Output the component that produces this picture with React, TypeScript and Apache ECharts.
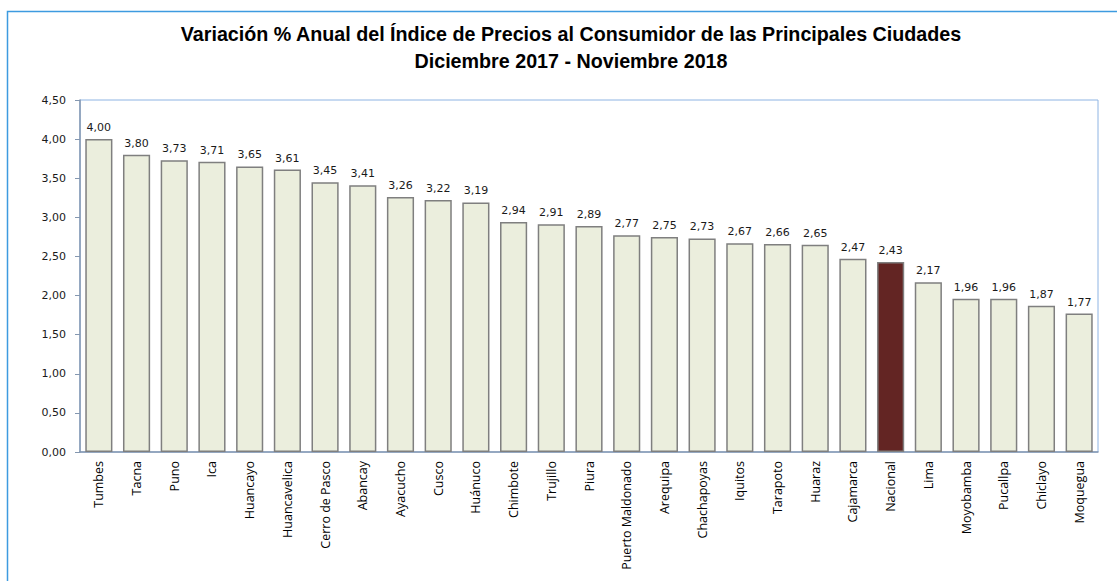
import React, { useEffect, useRef } from "react";
import * as echarts from "echarts";

const titleLine1 = "Variación % Anual del Índice de Precios al Consumidor de las Principales Ciudades";
const titleLine2 = "Diciembre 2017 - Noviembre 2018";

const cities = [
  "Tumbes", "Tacna", "Puno", "Ica", "Huancayo", "Huancavelica", "Cerro de Pasco",
  "Abancay", "Ayacucho", "Cusco", "Huánuco", "Chimbote", "Trujillo", "Piura",
  "Puerto Maldonado", "Arequipa", "Chachapoyas", "Iquitos", "Tarapoto", "Huaraz",
  "Cajamarca", "Nacional", "Lima", "Moyobamba", "Pucallpa", "Chiclayo", "Moquegua",
];

const values = [
  4.0, 3.8, 3.73, 3.71, 3.65, 3.61, 3.45, 3.41, 3.26, 3.22, 3.19, 2.94, 2.91, 2.89,
  2.77, 2.75, 2.73, 2.67, 2.66, 2.65, 2.47, 2.43, 2.17, 1.96, 1.96, 1.87, 1.77,
];

const highlighted = "Nacional";

const fmt = (v: number) => v.toFixed(2).replace(".", ",");

export default function App() {
  const ref = useRef<HTMLDivElement>(null);
  useEffect(() => {
    if (!ref.current) return;
    const chart = echarts.init(ref.current, null, { renderer: "svg" });
    const font = "DejaVu Sans";
    const titleStyle = { fontFamily: "Liberation Sans", fontWeight: "bold", fontSize: 19.7, color: "#000" };
    chart.setOption({
      animation: false,
      backgroundColor: "#ffffff",
      title: [
        { text: titleLine1, left: 566, top: 19, textAlign: "center", textStyle: titleStyle },
        { text: titleLine2, left: 566, top: 46, textAlign: "center", textStyle: titleStyle },
      ],
      graphic: [
        {
          type: "rect",
          shape: { x: 7.5, y: 11.5, width: 1130, height: 600 },
          style: { fill: "none", stroke: "#3d9be0", lineWidth: 1.5 },
          silent: true,
          z: -1,
        },
      ],
      grid: {
        left: 80,
        right: 19,
        top: 100,
        bottom: 129,
        show: true,
        borderColor: "#8eb4e3",
        borderWidth: 1,
      },
      xAxis: {
        type: "category",
        data: cities,
        axisLine: { show: true, lineStyle: { color: "#8497b0", width: 1.5 } },
        axisTick: { show: false },
        axisLabel: {
          rotate: 90,
          interval: 0,
          margin: 9,
          fontFamily: "Open Sans",
          fontSize: 12.5,
          color: "#000",
        },
      },
      yAxis: {
        type: "value",
        min: 0,
        max: 4.5,
        interval: 0.5,
        splitLine: { show: false },
        axisLine: { show: true, lineStyle: { color: "#8497b0", width: 1.5 } },
        axisTick: { show: true, length: 5, lineStyle: { color: "#8497b0" } },
        axisLabel: {
          formatter: (v: number) => fmt(v),
          fontFamily: font,
          fontSize: 11,
          color: "#1a1a1a",
          margin: 14,
        },
      },
      series: [
        {
          type: "bar",
          barCategoryGap: "28%",
          data: values.map((v, i) => ({
            value: v,
            itemStyle: {
              color: cities[i] === highlighted ? "#632523" : "#ebeedd",
              borderColor: "#7f7f7f",
              borderWidth: 1.5,
            },
          })),
          label: {
            show: true,
            position: "top",
            distance: 6,
            formatter: (p: any) => fmt(p.value),
            fontFamily: font,
            fontSize: 11,
            color: "#1a1a1a",
          },
        },
      ],
    });
    return () => chart.dispose();
  }, []);
  return (
    <div
      ref={ref}
      style={{ position: "fixed", left: 0, top: 0, width: 1117, height: 581 }}
    />
  );
}
